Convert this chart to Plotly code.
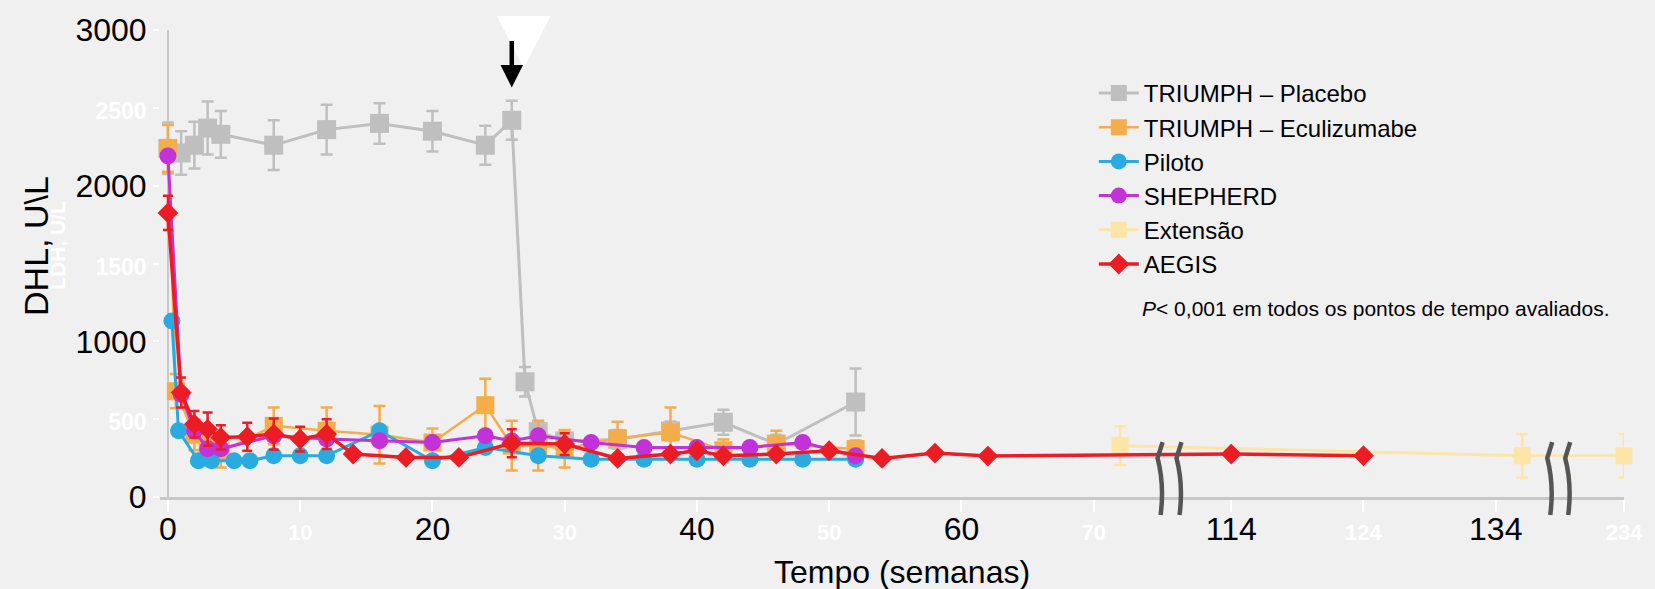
import plotly.graph_objects as go

# ---------------- data ----------------
placebo_weeks = [0, 1, 2, 3, 4, 8, 12, 16, 20, 24, 26, 27, 28, 30, 34, 38, 42, 46, 52]
placebo_ldh = [2240, 2210, 2260, 2370, 2330, 2260, 2360, 2400, 2350, 2260, 2420, 740, 420, 360, 370, 425, 480, 340, 610]
placebo_err = [165, 140, 150, 170, 150, 160, 160, 130, 130, 125, 125, 95, 60, 60, 60, 60, 80, 60, 215]

ecu_weeks = [0, 0.6, 2, 3, 4, 8, 12, 16, 20, 24, 26, 28, 30, 34, 38, 42, 46, 52]
ecu_ldh = [2240, 680, 400, 330, 290, 457, 425, 400, 350, 590, 330, 330, 310, 378, 415, 300, 340, 308]
ecu_err = [150, 110, 100, 100, 100, 118, 150, 185, 90, 170, 160, 160, 120, 105, 160, 70, 85, 55]

pilot_weeks = [0.3, 0.8, 2.3, 3.3, 5, 6.2, 8, 10, 12, 16, 20, 24, 28, 32, 36, 40, 44, 48, 52]
pilot_ldh = [1130, 425, 233, 233, 233, 233, 265, 265, 265, 425, 233, 318, 265, 243, 243, 243, 243, 243, 243]

shepherd_weeks = [0, 1, 2, 3, 4, 8, 12, 16, 20, 24, 26, 28, 32, 36, 40, 44, 48, 52]
shepherd_ldh = [2190, 660, 425, 310, 310, 393, 372, 361, 350, 393, 360, 393, 350, 318, 318, 318, 350, 265]

ext_weeks = [72, 136, 234]
ext_ldh = [330, 265, 265]
ext_err = [125, 140, 140]

aegis_weeks = [0, 1, 2, 3, 4, 6, 8, 10, 12, 14, 18, 22, 26, 30, 34, 38, 40, 42, 46, 50, 54, 58, 62, 114, 124]
aegis_ldh = [1825, 671, 468, 436, 383, 387, 404, 372, 404, 276, 254, 254, 345, 340, 248, 276, 297, 265, 276, 297, 248, 282, 263, 276, 265]
aegis_err = [110, 96, 85, 107, 78, 90, 100, 80, 95, None, None, None, 90, 70, None, None, None, None, None, None, None, None, None, None, None]

x_tick_weeks = [0, 10, 20, 30, 40, 50, 60, 70, 114, 124, 134, 234]
x_tick_strong = [True, False, True, False, True, False, True, False, True, False, True, False]
y_tick_values = [0, 500, 1000, 1500, 2000, 2500, 3000]
y_tick_strong = [True, False, True, False, True, False, True]

series_names = ["TRIUMPH – Placebo", "TRIUMPH – Eculizumabe", "Piloto", "SHEPHERD", "Extensão", "AEGIS"]


# ---------------- broken time axis ----------------
def to_axis(w):
    """Map weeks onto the broken (compressed) horizontal axis."""
    if w <= 80:
        return w
    if w <= 150:
        return w - 33.6
    return w - 123.9


def xs(weeks):
    return [to_axis(w) for w in weeks]


# pixel helpers for decorations (plot area: x 160..1629, y 29..497)
L, R, T, B = 160, 1629, 29, 497


def pxx(px):
    return (px - L) / (R - L)


def pxy(py):
    return (B - py) / (B - T)


FONT = "Liberation Sans, Arial, sans-serif"
BG = "#f0f0f0"

c_gray = "#bfbfbf"
c_orange = "#f5ac4a"
c_blue = "#29abe2"
c_purple = "#c232d8"
c_ext = "#fde5a8"
c_red = "#ec1c24"

fig = go.Figure()

fig.add_trace(go.Scatter(
    x=xs(placebo_weeks), y=placebo_ldh, name=series_names[0], mode="lines+markers",
    line=dict(color=c_gray, width=3),
    marker=dict(symbol="square", size=19, color=c_gray),
    error_y=dict(type="data", array=placebo_err, color=c_gray, thickness=2.5, width=6),
    cliponaxis=False))

fig.add_trace(go.Scatter(
    x=xs(ecu_weeks), y=ecu_ldh, name=series_names[1], mode="lines+markers",
    line=dict(color=c_orange, width=2.5),
    marker=dict(symbol="square", size=18, color=c_orange),
    error_y=dict(type="data", array=ecu_err, color=c_orange, thickness=2.5, width=6),
    cliponaxis=False))

fig.add_trace(go.Scatter(
    x=xs(pilot_weeks), y=pilot_ldh, name=series_names[2], mode="lines+markers",
    line=dict(color=c_blue, width=3),
    marker=dict(symbol="circle", size=17, color=c_blue),
    cliponaxis=False))

fig.add_trace(go.Scatter(
    x=xs(shepherd_weeks), y=shepherd_ldh, name=series_names[3], mode="lines+markers",
    line=dict(color=c_purple, width=3),
    marker=dict(symbol="circle", size=17, color=c_purple),
    cliponaxis=False))

fig.add_trace(go.Scatter(
    x=xs(ext_weeks), y=ext_ldh, name=series_names[4], mode="lines+markers",
    line=dict(color=c_ext, width=3),
    marker=dict(symbol="square", size=17, color=c_ext),
    error_y=dict(type="data", array=ext_err, color=c_ext, thickness=2.5, width=6),
    cliponaxis=False))

fig.add_trace(go.Scatter(
    x=xs(aegis_weeks), y=aegis_ldh, name=series_names[5], mode="lines+markers",
    line=dict(color=c_red, width=3.5),
    marker=dict(symbol="diamond", size=16, color=c_red),
    error_y=dict(type="data", array=aegis_err, color=c_red, thickness=2.5, width=5),
    cliponaxis=False))


def tick_label(v, strong, size):
    if strong:
        return str(v)
    return '<span style="color:white;font-size:%dpx"><b>%s</b></span>' % (size, v)


fig.update_xaxes(
    range=[-0.6, 110.1],
    tickmode="array",
    tickvals=xs(x_tick_weeks),
    ticktext=[tick_label(w, s, 22) for w, s in zip(x_tick_weeks, x_tick_strong)],
    tickfont=dict(family=FONT, size=32, color="black"),
    ticks="outside", ticklen=12, tickwidth=2, tickcolor="white",
    ticklabelstandoff=-10,
    showline=True, linecolor="#c8c8c8", linewidth=2.5,
    showgrid=False,
    zeroline=True, zerolinecolor="#c8c8c8", zerolinewidth=2,
)
fig.update_yaxes(
    range=[0, 3000],
    tickmode="array",
    tickvals=y_tick_values,
    ticktext=[tick_label(v, s, 23) for v, s in zip(y_tick_values, y_tick_strong)],
    tickfont=dict(family=FONT, size=32, color="black"),
    ticks="outside", ticklen=6, tickwidth=2, tickcolor="white",
    showline=False, showgrid=False, zeroline=False,
)

shapes = []
# axis break marks
for cx in [1163, 1182, 1554, 1572]:
    path = "M %f,%f L %f,%f Q %f,%f %f,%f" % (
        pxx(cx + 3), pxy(442), pxx(cx - 2), pxy(458),
        pxx(cx + 5), pxy(485), pxx(cx + 1), pxy(515))
    shapes.append(dict(type="path", path=path, xref="paper", yref="paper",
                       line=dict(color="#555555", width=4.5), layer="above"))
# white triangle marker above the switch point
tri = "M %f,%f L %f,%f L %f,%f Z" % (pxx(498), pxy(15), pxx(552), pxy(15), pxx(525), pxy(67))
shapes.append(dict(type="path", path=tri, xref="paper", yref="paper",
                   fillcolor="white", line=dict(color="white", width=0), layer="above"))

switch_idx = placebo_weeks.index(26)
annotations = [
    dict(x=to_axis(placebo_weeks[switch_idx]), y=placebo_ldh[switch_idx] + 210, xref="x", yref="y",
         text="", showarrow=True, ax=0, ay=-48, arrowhead=2, arrowsize=1, arrowwidth=4.5,
         arrowcolor="black"),
    dict(x=pxx(57), y=pxy(245), xref="paper", yref="paper", text="<b>LDH, U/L</b>",
         textangle=-90, showarrow=False, font=dict(family=FONT, size=21, color="white"),
         xanchor="center", yanchor="middle"),
    dict(x=pxx(35), y=pxy(245), xref="paper", yref="paper", text="DHL, U\\L",
         textangle=-90, showarrow=False, font=dict(family=FONT, size=34, color="black"),
         xanchor="center", yanchor="middle"),
    dict(x=pxx(905), y=pxy(572), xref="paper", yref="paper", text="Tempo (semanas)",
         showarrow=False, font=dict(family=FONT, size=32, color="black"),
         xanchor="center", yanchor="middle"),
    dict(x=pxx(1143), y=pxy(308), xref="paper", yref="paper",
         text="<i>P</i>< 0,001 em todos os pontos de tempo avaliados.",
         showarrow=False, font=dict(family=FONT, size=21, color="black"),
         xanchor="left", yanchor="middle"),
]

fig.update_layout(
    width=1655, height=589,
    margin=dict(l=L, r=1655 - R, t=T, b=589 - B),
    paper_bgcolor=BG, plot_bgcolor=BG,
    font=dict(family=FONT, color="black"),
    showlegend=True,
    legend=dict(x=pxx(1097), y=pxy(70), xanchor="left", yanchor="top",
                bgcolor="rgba(0,0,0,0)", font=dict(family=FONT, size=24, color="black"),
                itemwidth=40, tracegroupgap=0),
    shapes=shapes,
    annotations=annotations,
)

fig.write_html("out.html", config={"displayModeBar": False},
               post_script="document.body.style.margin='0';")
